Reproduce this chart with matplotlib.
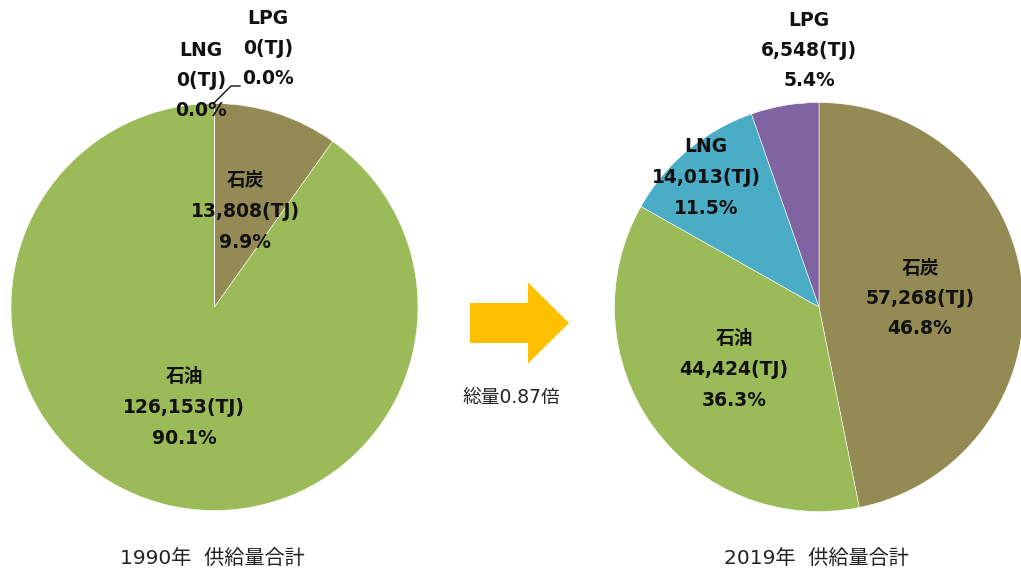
import matplotlib.pyplot as plt
from matplotlib.patches import FancyArrow

# data
fuels = ['石炭', '石油', 'LNG', 'LPG']
tj_1990 = [13808, 126153, 0, 0]
tj_2019 = [57268, 44424, 14013, 6548]
colors = ['#948A54', '#9BBB59', '#4BACC6', '#8064A2']

W, H = 1021, 577
plt.rcParams['font.family'] = ['DejaVu Sans', 'Noto Sans CJK JP']

fig = plt.figure(figsize=(W / 100, H / 100), dpi=100)
ax = fig.add_axes([0, 0, 1, 1])


def Y(py):
    # pixel row -> data y
    return H - py


def draw_pie(vals, cx, cy, r):
    ax.pie(vals, colors=colors, startangle=90, counterclock=False,
           center=(cx, Y(cy)), radius=r, normalize=True,
           wedgeprops=dict(edgecolor='white', linewidth=0.4))


def label(name, val, total, x, y0, gap=30.5):
    pct = val / total * 100
    lines = [name, f'{val:,}(TJ)', f'{pct:.1f}%']
    for i, s in enumerate(lines):
        ax.text(x, Y(y0 + i * gap), s, ha='center', va='center',
                fontsize=13.5, fontweight='bold', color='#111111')


draw_pie(tj_1990, 214.5, 307, 203.5)
draw_pie(tj_2019, 819, 307, 204.5)

t1 = sum(tj_1990)
t2 = sum(tj_2019)

# 1990 labels
pos_1990 = {'石炭': (245, 181), '石油': (184, 377), 'LNG': (201, 50), 'LPG': (268, 18)}
for f, v in zip(fuels, tj_1990):
    label(f, v, t1, *pos_1990[f])
# leader line for LNG
ax.plot([240, 231, 214], [Y(86), Y(86), Y(103)], color='#111111', lw=1)

# 2019 labels
pos_2019 = {'石炭': (920, 268), '石油': (734, 339), 'LNG': (706, 147), 'LPG': (809, 20)}
for f, v in zip(fuels, tj_2019):
    label(f, v, t2, *pos_2019[f])

# arrow and ratio
ax.add_patch(FancyArrow(470, Y(323), 99, 0, width=40, head_width=81, head_length=41,
                        length_includes_head=True, color='#FFC000', lw=0))
ax.text(511, Y(397), f'総量{t2 / t1:.2f}倍', ha='center', va='center', fontsize=13.5, color='#222222')

ax.text(212, Y(559), '1990年  供給量合計', ha='center', va='center', fontsize=14.5, color='#222222')
ax.text(816, Y(559), '2019年  供給量合計', ha='center', va='center', fontsize=14.5, color='#222222')

ax.set_xlim(0, W)
ax.set_ylim(0, H)
ax.set_aspect('equal')
ax.axis('off')

fig.savefig('out.png', dpi=100)
